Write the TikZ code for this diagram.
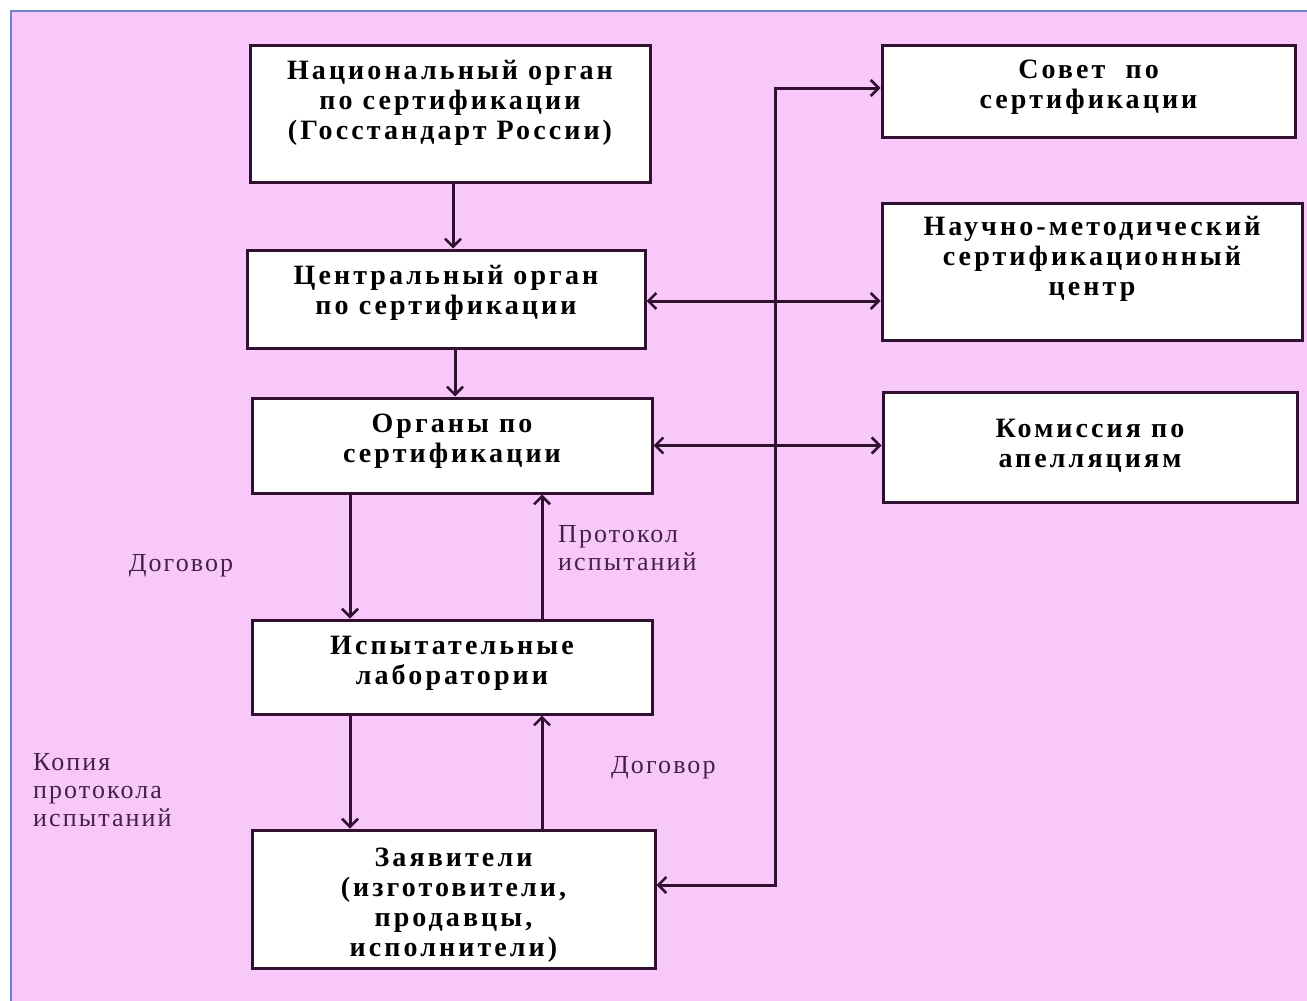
\documentclass[tikz,border=0pt]{standalone}
\usepackage{fontspec}
\setmainfont{Liberation Serif}
\newfontfamily\boxfont[LetterSpace=11]{Liberation Serif}
\newfontfamily\labfont[LetterSpace=8]{Liberation Serif}
\usetikzlibrary{arrows.meta}
\definecolor{bgpink}{RGB}{249,200,250}
\definecolor{edgeblue}{RGB}{112,128,210}
\definecolor{lineclr}{RGB}{48,18,48}
\definecolor{labclr}{RGB}{72,30,72}
\tikzset{
  box/.style={draw=lineclr, line width=3pt, fill=white, inner sep=0pt},
  boxtxt/.style={anchor=north, align=center, inner sep=0pt, font=\boxfont\bfseries\fontsize{28}{30}\selectfont, text=black},
  lab/.style={align=left, inner sep=0pt, font=\labfont\fontsize{26}{28}\selectfont, text=labclr},
  conn/.style={draw=lineclr, line width=3pt},
  arr/.style={conn, -{Straight Barb[length=8pt,width=16pt,line width=2.5pt]}},
  darr/.style={conn, {Straight Barb[length=8pt,width=16pt,line width=2.5pt]}-{Straight Barb[length=8pt,width=16pt,line width=2.5pt]}}
}
\begin{document}
\begin{tikzpicture}[x=1pt,y=-1pt]
\useasboundingbox (0,0) rectangle (1307,1001);
\fill[white] (0,0) rectangle (1307,1001);
\fill[bgpink] (11,11) rectangle (1307,1001);
\draw[edgeblue, line width=2pt] (11,1001) -- (11,11) -- (1307,11);

% boxes
\node[box, minimum width=400pt, minimum height=137pt] (nat) at (450,113.5) {};
\node[box, minimum width=398pt, minimum height=98pt] (cen) at (446,299) {};
\node[box, minimum width=400pt, minimum height=95pt] (org) at (452,445.5) {};
\node[box, minimum width=400pt, minimum height=94pt] (lab) at (452,667) {};
\node[box, minimum width=403pt, minimum height=138pt] (app) at (453.5,899) {};
\node[box, minimum width=413pt, minimum height=92pt] (sov) at (1088.5,91) {};
\node[box, minimum width=420pt, minimum height=137pt] (nms) at (1092,271.5) {};
\node[box, minimum width=414pt, minimum height=110pt] (kom) at (1090,447) {};

% box texts
\node[boxtxt] (natT) at ([yshift=-17pt]nat.north) {Национальный орган\\по сертификации\\(Госстандарт России)};
\node[boxtxt] (cenT) at ([yshift=-17pt]cen.north) {Центральный орган\\по сертификации};
\node[boxtxt] (orgT) at ([yshift=-17pt]org.north) {Органы по\\сертификации};
\node[boxtxt] (labT) at ([yshift=-17pt]lab.north) {Испытательные\\лаборатории};
\node[boxtxt] (appT) at ([yshift=-19pt]app.north) {Заявители\\(изготовители,\\продавцы,\\исполнители)};
\node[boxtxt] (sovT) at ([yshift=-16pt]sov.north) {Совет\ \ по\\сертификации};
\node[boxtxt] (nmsT) at ([yshift=-15pt]nms.north) {Научно-методический\\сертификационный\\центр};
\node[boxtxt] (komT) at ([yshift=-28pt]kom.north) {Комиссия по\\апелляциям};

% vertical connectors
\draw[arr] ([xshift=3pt]nat.south) -- ([xshift=7pt]cen.north);
\draw[arr] ([xshift=9pt]cen.south) -- ([xshift=3pt]org.north);
\draw[arr] ([xshift=-102pt]org.south) -- ([xshift=-102pt]lab.north);
\draw[arr] ([xshift=90pt]lab.north) -- ([xshift=90pt]org.south);
\draw[arr] ([xshift=-102pt]lab.south) -- ([xshift=-103.5pt]app.north);
\draw[arr] ([xshift=88.5pt]app.north) -- ([xshift=90pt]lab.south);

% horizontal double arrows
\draw[darr] ([yshift=-2pt]cen.east) -- ([yshift=-2pt]cen.east -| nms.west);
\draw[darr] (org.east) -- (org.east -| kom.west);

% bus
\coordinate (busTop) at (775,88);
\coordinate (busBot) at (775,885);
\draw[darr] (app.east |- busBot) -- (busBot) -- (busTop) -- (busTop -| sov.west);

% labels
\node[lab, anchor=center] (l1) at (181,566) {Договор};
\node[lab, anchor=west] (l2) at (558,548) {Протокол\\испытаний};
\node[lab, anchor=west] (l3) at (33,790) {Копия\\протокола\\испытаний};
\node[lab, anchor=west] (l4) at (611,768) {Договор};
\end{tikzpicture}
\end{document}
